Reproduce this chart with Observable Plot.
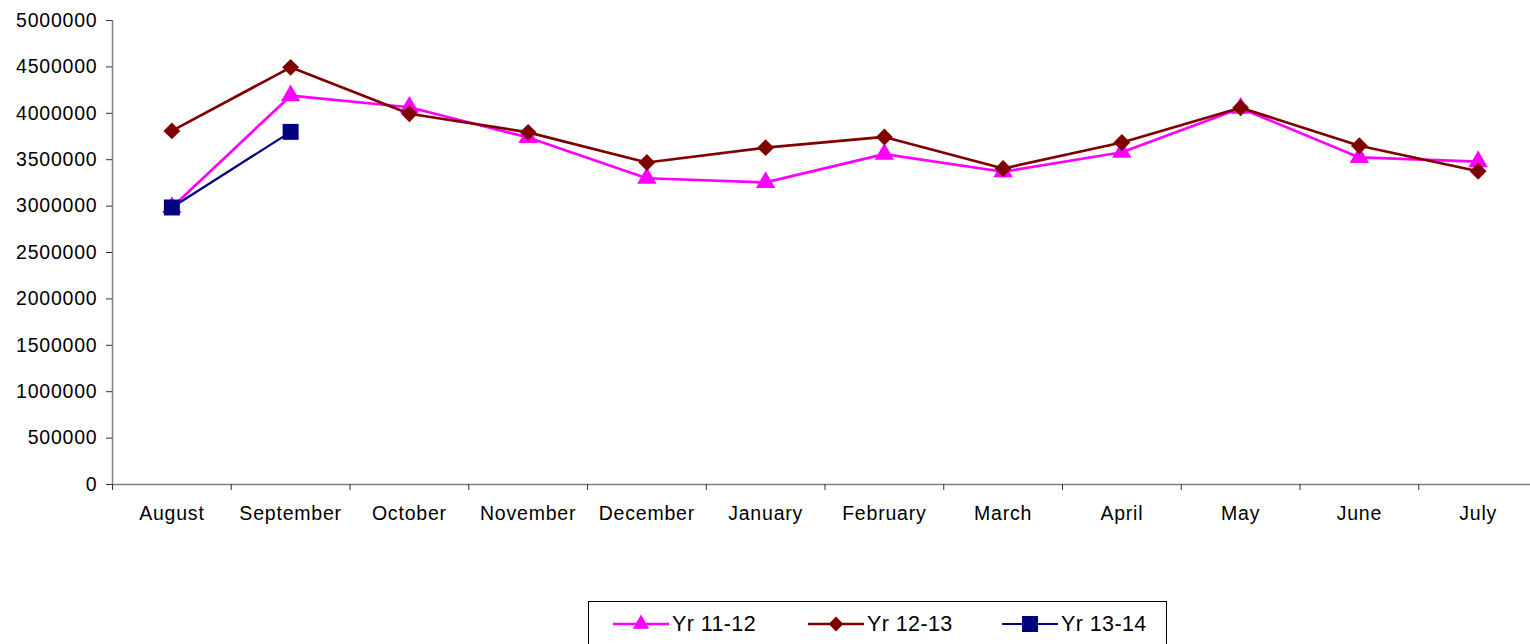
<!DOCTYPE html>
<html>
<head>
<meta charset="utf-8">
<script src="https://cdn.jsdelivr.net/npm/d3@7"></script>
<script src="https://cdn.jsdelivr.net/npm/@observablehq/plot@0.6"></script>
<style>
  html, body { margin: 0; padding: 0; background: #fff; }
  body { width: 1530px; height: 644px; overflow: hidden; position: relative; font-family: "Liberation Sans", Arial, sans-serif; }
  #chart svg { display: block; }
  #chart text { letter-spacing: 0.8px; }
  #legend { position: absolute; left: 588px; top: 601px; width: 579px; height: 50px; border: 1px solid #000; box-sizing: border-box; background: #fff; }
  .item { position: absolute; top: 0; height: 44px; display: flex; align-items: center; }
  .item span { font-size: 21.5px; letter-spacing: 0.4px; color: #000; }
</style>
</head>
<body>
<div id="chart"></div>
<div id="legend"></div>
<script>
const months = ["August","September","October","November","December","January","February","March","April","May","June","July"];
const seriesNames = ["Yr 11-12", "Yr 12-13", "Yr 13-14"];
const yr1112 = [2985000, 4190000, 4065000, 3740000, 3300000, 3255000, 3560000, 3370000, 3580000, 4055000, 3525000, 3480000];
const yr1213 = [3810000, 4495000, 3995000, 3795000, 3470000, 3630000, 3745000, 3405000, 3685000, 4060000, 3650000, 3375000];
const yr1314 = [2985000, 3800000];
const yTicks = [0, 500000, 1000000, 1500000, 2000000, 2500000, 3000000, 3500000, 4000000, 4500000, 5000000];

const colors = ["#FF00FF", "#800000", "#000080"];
const symbols = ["triangle", "diamond2", "square"];
const sizes = [7.2, 7.6, 9];
const widths = [2.7, 2.7, 2.2];

const allSeries = [yr1112, yr1213, yr1314];
const rows = [];
allSeries.forEach((vals, s) => vals.forEach((v, i) => rows.push({series: seriesNames[s], i, month: months[i], value: v})));

const boundaries = d3.range(-0.5, months.length, 1);
const centers = d3.range(months.length);

const marks = [
  Plot.ruleY([0], {stroke: "#808080", strokeWidth: 1.5}),
  Plot.ruleX([-0.5], {stroke: "#808080", strokeWidth: 1.5}),
  Plot.axisY({ticks: yTicks, tickFormat: d => String(d), tickSize: 6, tickPadding: 9, fontSize: 19.5, stroke: "#333", fill: "#000", label: null}),
  Plot.axisX({ticks: boundaries, tickFormat: () => "", tickSize: 6, stroke: "#333", label: null}),
  Plot.axisX({ticks: centers, tickFormat: i => months[i], tickSize: 0, tickPadding: 22, fontSize: 19.5, fill: "#000", label: null})
];
seriesNames.forEach((name, s) => {
  const data = rows.filter(r => r.series === name);
  marks.push(Plot.line(data, {x: "i", y: "value", stroke: colors[s], strokeWidth: widths[s]}));
  marks.push(Plot.dot(data, {x: "i", y: "value", symbol: symbols[s], fill: colors[s], stroke: "none", r: sizes[s]}));
});

const chart = Plot.plot({
  width: 1530,
  height: 601,
  marginLeft: 112,
  marginRight: 0,
  marginTop: 20,
  marginBottom: 117,
  style: {fontFamily: "'Liberation Sans', Arial, sans-serif", fontSize: "19.5px", background: "#fff", overflow: "hidden"},
  x: {domain: [-0.5, 11.5], range: [112, 1537], label: null},
  y: {domain: [0, 5000000], range: [484, 20], label: null},
  marks
});
document.getElementById("chart").appendChild(chart);

// Legend
const legend = document.getElementById("legend");
const legendPos = [[24, 83], [219, 278], [413, 472]];
const symMap = {triangle: d3.symbolTriangle, diamond2: d3.symbolDiamond2, square: d3.symbolSquare};
const legendSizes = [115, 140, 256];
seriesNames.forEach((name, s) => {
  const sw = document.createElement("div");
  sw.className = "item";
  sw.style.left = legendPos[s][0] + "px";
  const svg = d3.create("svg").attr("width", 56).attr("height", 22);
  svg.append("line").attr("x1", 0).attr("x2", 56).attr("y1", 11).attr("y2", 11).attr("stroke", colors[s]).attr("stroke-width", widths[s]);
  svg.append("path").attr("transform", "translate(28,11)").attr("d", d3.symbol(symMap[symbols[s]], legendSizes[s])()).attr("fill", colors[s]);
  sw.appendChild(svg.node());
  legend.appendChild(sw);
  const lab = document.createElement("div");
  lab.className = "item";
  lab.style.left = legendPos[s][1] + "px";
  lab.innerHTML = "<span>" + name + "</span>";
  legend.appendChild(lab);
});
</script>
</body>
</html>
